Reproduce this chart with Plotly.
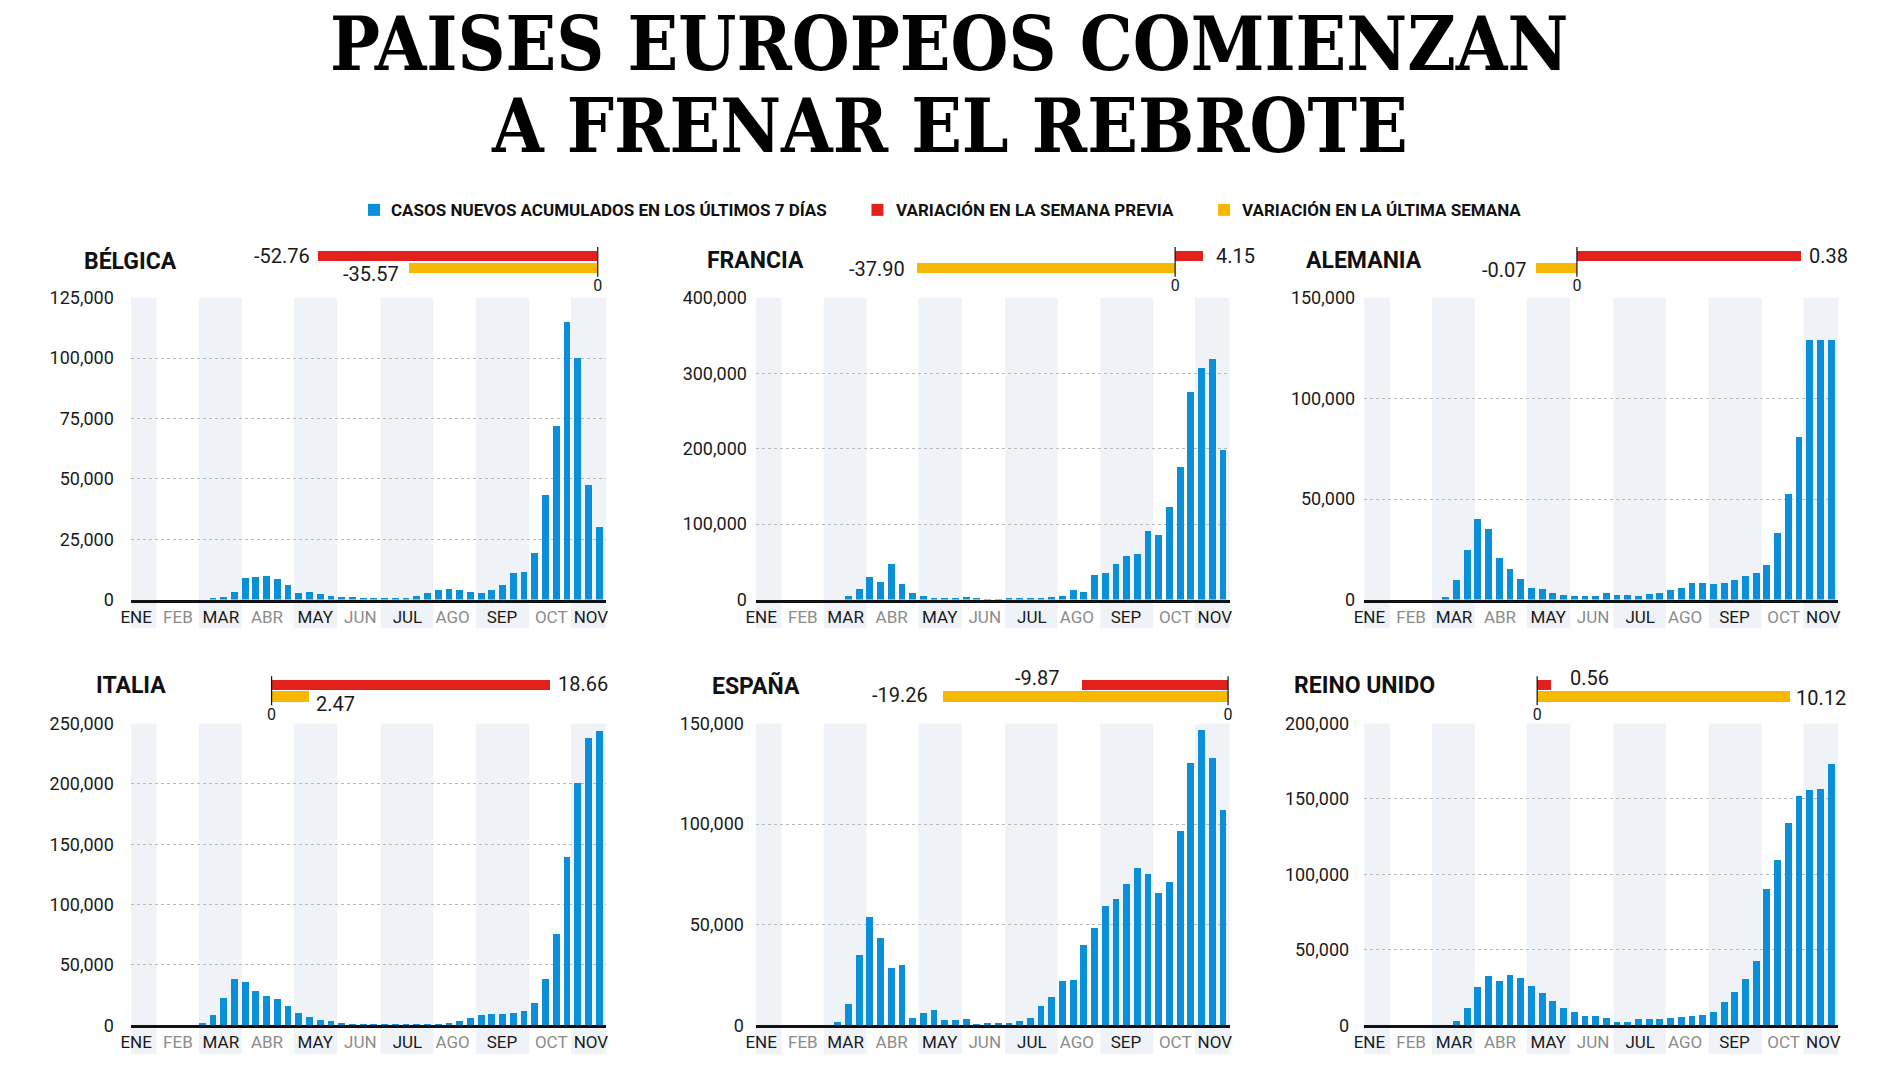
import plotly.graph_objects as go

# ---------------- DATA ----------------
countries = ["BÉLGICA", "FRANCIA", "ALEMANIA", "ITALIA", "ESPAÑA", "REINO UNIDO"]
weeks = list(range(44))

belgica = [0, 0, 0, 0, 0, 0, 0, 700, 1200, 3300, 9000, 9500, 10000, 8500, 6200, 2800, 3300,
           2200, 1500, 1100, 1100, 700, 700, 700, 700, 700, 1500, 2800, 3900, 4500, 4000, 3200,
           2800, 3900, 6100, 11000, 11700, 19500, 43500, 72000, 115000, 100000, 47500, 30000]
francia = [0, 0, 0, 0, 0, 0, 0, 0, 5300, 14600, 30500, 23000, 48000, 21000, 8400, 5700, 2600,
           2600, 1500, 3500, 2600, 600, 600, 2000, 1500, 2000, 2600, 3500, 5700, 12800, 11000,
           32700, 35800, 48000, 57500, 60500, 91500, 85700, 123000, 176000, 275000, 307000,
           319000, 198000]
alemania = [0, 0, 0, 0, 0, 0, 0, 1300, 10000, 24700, 40000, 35100, 20900, 15200, 10400, 6100,
            5500, 3500, 2300, 1800, 1800, 1800, 3500, 2300, 2300, 1800, 2800, 3300, 4800, 6000,
            8500, 8500, 7800, 8500, 9800, 11600, 13300, 17400, 33200, 52700, 81000, 129000,
            129000, 129000]
italia = [0, 0, 0, 0, 0, 0, 2200, 8600, 23200, 38700, 36500, 28500, 25100, 22100, 16000, 10500,
          7700, 4700, 3900, 2200, 1700, 1700, 1400, 1100, 1400, 1100, 1400, 1400, 1400, 2200,
          3900, 6600, 8800, 9700, 9700, 10800, 11900, 18800, 38400, 76200, 139500, 201000,
          238000, 244000]
espana = [0, 0, 0, 0, 0, 0, 0, 1700, 10800, 35000, 53900, 43400, 28700, 30200, 4100, 6600, 7800,
          3000, 3000, 3500, 1000, 1500, 1500, 1500, 2200, 4000, 9600, 14400, 22500, 23000, 40300,
          48600, 59300, 63200, 70500, 78400, 75300, 66000, 71600, 96600, 130400, 147200, 133100,
          107200]
reino_unido = [0, 0, 0, 0, 0, 0, 0, 0, 3500, 11700, 25400, 32900, 29600, 33800, 32000, 26300,
               21600, 16600, 11700, 9300, 6600, 6600, 5100, 2600, 2600, 4200, 4200, 4200, 5100,
               5700, 6400, 7300, 9100, 15700, 22100, 30900, 42800, 90900, 109700, 134200,
               152300, 156500, 157200, 173500]
series = [belgica, francia, alemania, italia, espana, reino_unido]

var_previa = [-52.76, 4.15, 0.38, 18.66, -9.87, 0.56]
var_ultima = [-35.57, -37.90, -0.07, 2.47, -19.26, 10.12]

y_max = [125000, 400000, 150000, 250000, 150000, 200000]
y_step = [25000, 100000, 50000, 50000, 50000, 50000]

months = ["ENE", "FEB", "MAR", "ABR", "MAY", "JUN", "JUL", "AGO", "SEP", "OCT", "NOV"]
month_pos = [-0.15, 3.75, 7.75, 12.05, 16.55, 20.75, 25.15, 29.35, 33.95, 38.55, 42.25]
month_edges = [-0.64, 1.75, 5.7, 9.7, 14.55, 18.6, 22.65, 27.55, 31.55, 36.5, 40.4, 43.65]

legend_labels = ["CASOS NUEVOS ACUMULADOS EN LOS ÚLTIMOS 7 DÍAS",
                 "VARIACIÓN EN LA SEMANA PREVIA",
                 "VARIACIÓN EN LA ÚLTIMA SEMANA"]
title_lines = ["PAISES EUROPEOS COMIENZAN", "A FRENAR EL REBROTE"]

# ---------------- STYLE / LAYOUT ----------------
W, H = 1900, 1068
BLUE = "#0b8fd8"
RED = "#e2201c"
YELLOW = "#f8b800"
BAND = "#eff3f7"
GRAY = "#8c8c8c"
INK = "#1a1a1a"
SANS = "Roboto, Noto Sans, sans-serif"
TITLE_FONT = "DejaVu Serif Condensed, DejaVu Serif, serif"

# target pixel positions (reference image coordinates)
col_x = [(130.6, 606.2), (756.3, 1230.7), (1365.2, 1839.8)]
row_y = [(297, 599), (723, 1025)]
var_row_y = [(249, 273), (678.5, 702)]
title_y = [260, 685]
ytick_gap = [16, 8, 8, 16, 11, 14]

var_zero_px = [598.0, 1176.0, 1578.2, 271.5, 1229.0, 1538.4]
var_scale = [5.3, 6.8, 590, 14.9, 14.8, 25]
var_range = [(-56, 2), (-40, 6), (-0.1, 0.42), (-1, 20), (-20.5, 1), (-1, 11)]
# (xshift, yshift) for previa / ultima labels
lab_prev = [(-6, 0), (11, 0), (6, 0), (7, 1), (-20, 7), (17, 7)]
lab_ult = [(-8, -6), (-11, -1), (-7, -2), (6, -7), (-13, 2), (4, -1)]


# calibration of target pixels -> paper fractions
def PX(x):
    return (1828 + (x - 1828) * 1.0053) / W


def PY(y):
    return 1 - (526 + (y - 526) / 0.981) / H


def dom_x(a, b):
    return [PX(a), PX(b)]


def dom_y(top, bottom):
    return [PY(bottom), PY(top)]


def ax(letter, n):
    return letter if n == 1 else f"{letter}{n}"


fig = go.Figure()
layout = dict(width=W, height=H, margin=dict(l=0, r=0, t=0, b=0),
              paper_bgcolor="white", plot_bgcolor="rgba(0,0,0,0)",
              showlegend=False, bargap=0)
shapes = []
annotations = []

ticktext = [m if k % 2 == 0 else f"<span style='color:{GRAY}'>{m}</span>"
            for k, m in enumerate(months)]

for i, (name, vals) in enumerate(zip(countries, series)):
    r, c = divmod(i, 3)
    n = i + 1
    xa, ya = ax("x", n), ax("y", n)
    fig.add_trace(go.Bar(x=weeks, y=vals, marker=dict(color=BLUE, line=dict(width=0)),
                         width=0.64, xaxis=xa, yaxis=ya, hoverinfo="x+y"))
    layout[f"xaxis{n}"] = dict(domain=dom_x(*col_x[c]), anchor=ya,
                               range=[month_edges[0], month_edges[-1]],
                               tickmode="array", tickvals=month_pos, ticktext=ticktext,
                               tickangle=0,
                               tickfont=dict(family=SANS, size=17, color=INK),
                               showgrid=False, zeroline=False, showline=True,
                               linecolor="#111", linewidth=2.5, ticks="",
                               fixedrange=True)
    layout[f"yaxis{n}"] = dict(domain=dom_y(*row_y[r]), anchor=xa,
                               range=[0, y_max[i]],
                               tickmode="array",
                               tickvals=list(range(0, y_max[i] + 1, y_step[i])),
                               tickformat=",", showgrid=True, gridcolor="#b9b9b9",
                               griddash="dot", gridwidth=1, zeroline=False, showline=False,
                               ticks="", ticklabelstandoff=ytick_gap[i],
                               tickfont=dict(family=SANS, size=18, color=INK),
                               fixedrange=True)
    # month bands
    for k in range(0, len(months), 2):
        shapes.append(dict(type="rect", xref=xa, yref=f"{ya} domain",
                           x0=month_edges[k], x1=month_edges[k + 1], y0=-0.095, y1=1,
                           fillcolor=BAND, line=dict(width=0), layer="below"))
    # country title
    cx = col_x[c][0]
    annotations.append(dict(xref="paper", yref="paper", x=PX(cx), y=PY(title_y[r]),
                            text=f"<b>{name}</b>", showarrow=False, xanchor="center",
                            yanchor="middle",
                            font=dict(family=SANS, size=23, color="#111")))

    # variation mini chart
    m = i + 7
    vx, vy = ax("x", m), ax("y", m)
    z0, kk = var_zero_px[i], var_scale[i]
    lo, hi = var_range[i]
    fig.add_trace(go.Bar(x=[var_ultima[i], var_previa[i]], y=[0, 1], orientation="h",
                         marker=dict(color=[YELLOW, RED], line=dict(width=0)), width=0.9,
                         xaxis=vx, yaxis=vy, hoverinfo="x"))
    layout[f"xaxis{m}"] = dict(domain=dom_x(z0 + kk * lo, z0 + kk * hi), anchor=vy,
                               range=[lo, hi], tickmode="array", tickvals=[0],
                               ticktext=["0"], ticks="", showgrid=False, zeroline=False,
                               showline=False,
                               tickfont=dict(family=SANS, size=16, color=INK),
                               fixedrange=True)
    layout[f"yaxis{m}"] = dict(domain=dom_y(*var_row_y[r]), anchor=vx, range=[-0.5, 1.5],
                               showticklabels=False, showgrid=False, zeroline=False,
                               showline=False, fixedrange=True)
    shapes.append(dict(type="line", xref=vx, yref=f"{vy} domain", x0=0, x1=0,
                       y0=-0.12, y1=1.12, line=dict(color="#111", width=1.2)))
    for val, yy, (dx, dy) in [(var_previa[i], 1, lab_prev[i]), (var_ultima[i], 0, lab_ult[i])]:
        annotations.append(dict(xref=vx, yref=vy, x=val, y=yy, text=f"{val:.2f}",
                                showarrow=False, xanchor="right" if val < 0 else "left",
                                yanchor="middle", xshift=dx, yshift=dy,
                                font=dict(family=SANS, size=20, color=INK)))

# legend
leg_sq = [(368, BLUE), (872, RED), (1219, YELLOW)]
leg_txt_x = [389, 895, 1241]
for (sx, col), tx, lab in zip(leg_sq, leg_txt_x, legend_labels):
    shapes.append(dict(type="rect", xref="paper", yref="paper",
                       x0=PX(sx), x1=PX(sx + 12), y0=PY(215), y1=PY(203),
                       fillcolor=col, line=dict(width=0)))
    annotations.append(dict(xref="paper", yref="paper", x=PX(tx), y=PY(209),
                            text=f"<b>{lab}</b>", showarrow=False, xanchor="left",
                            yanchor="middle", font=dict(family=SANS, size=17, color="#111")))

# headline
for line, yc in zip(title_lines, [43, 125]):
    annotations.append(dict(xref="paper", yref="paper", x=PX(950), y=PY(yc),
                            text=f"<b>{line}</b>", showarrow=False, xanchor="center",
                            yanchor="middle",
                            font=dict(family=TITLE_FONT, size=74, color="#000")))

layout["shapes"] = shapes
layout["annotations"] = annotations
fig.update_layout(**layout)
fig.write_html("out.html", config={"displayModeBar": False},
               post_script="document.body.style.margin='0';"
                           "document.body.style.overflow='hidden';")
